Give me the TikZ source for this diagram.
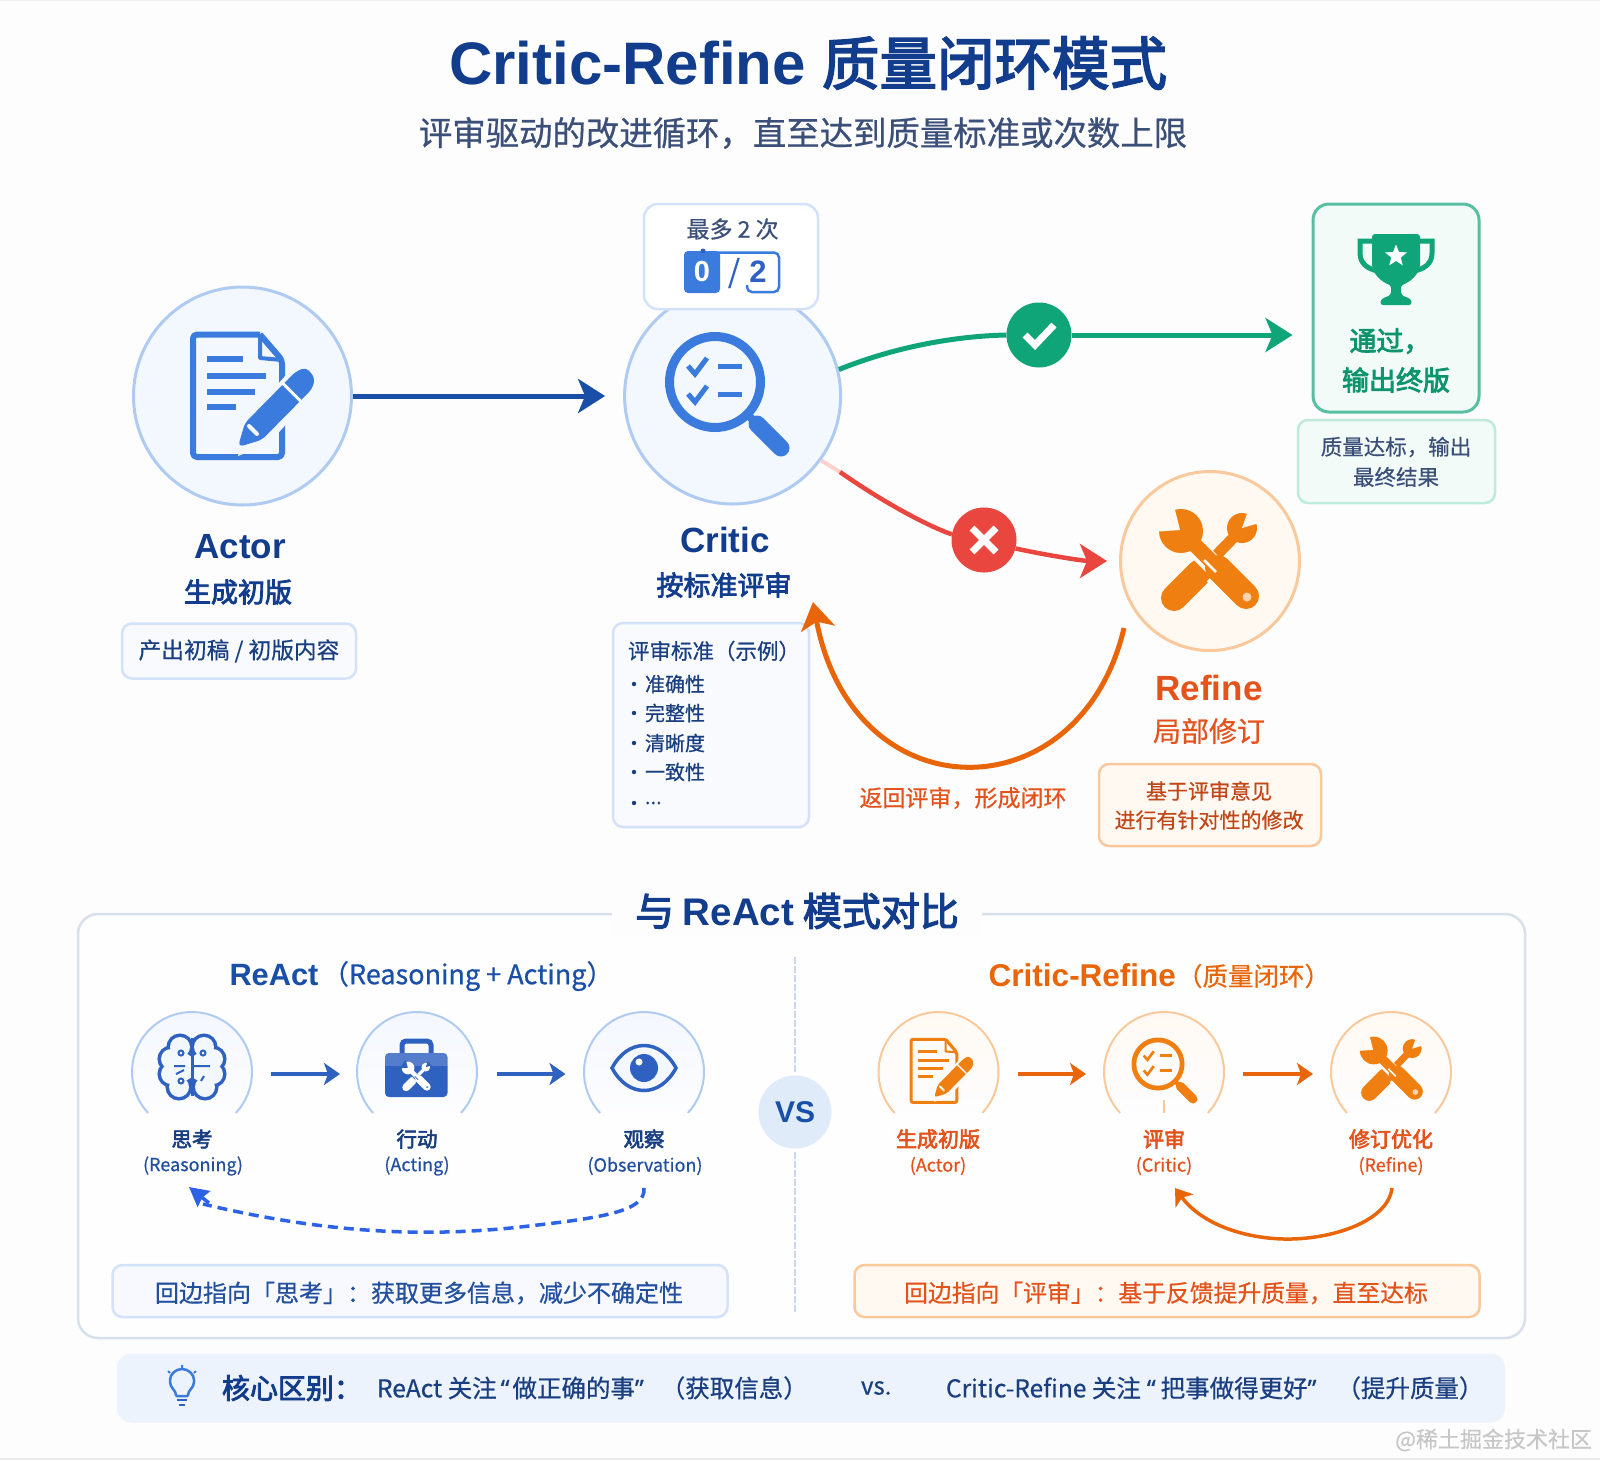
\documentclass[tikz,border=0pt]{standalone}
\usepackage{fontspec}
\setmainfont[FakeBold=0.6]{Noto Sans CJK SC}
\newfontfamily\semi[FakeBold=3]{Noto Sans CJK SC}
\newfontfamily\lb{Liberation Sans}
\newfontfamily\qf[FakeBold=0.6]{Noto Sans}
\usetikzlibrary{arrows.meta,shapes.geometric,calc}
\definecolor{bgc}{HTML}{FDFDFE}
\definecolor{navy}{HTML}{123C8C}
\definecolor{navyb}{HTML}{1A3F80}
\definecolor{arblue}{HTML}{1A4FA8}
\definecolor{icblue}{HTML}{3A7BDD}
\definecolor{ltblue}{HTML}{F3F7FE}
\definecolor{edblue}{HTML}{AFCBF2}
\definecolor{boxblue}{HTML}{D3E2F8}
\definecolor{midblue}{HTML}{2F62C0}
\definecolor{txblue}{HTML}{23509E}
\definecolor{slate}{HTML}{3B4F78}
\definecolor{grn}{HTML}{10A578}
\definecolor{ltgrn}{HTML}{F2FBF8}
\definecolor{edgrn}{HTML}{BDEBDA}
\definecolor{red1}{HTML}{E8463E}
\definecolor{org}{HTML}{E8650A}
\definecolor{org2}{HTML}{F07F12}
\definecolor{ltorg}{HTML}{FFF9F2}
\definecolor{edorg}{HTML}{F9C99C}
\definecolor{txorg}{HTML}{E4531C}
\definecolor{frame}{HTML}{D8E0EC}
\definecolor{divc}{HTML}{C9D8EE}
\definecolor{barb}{HTML}{EDF3FC}
\newcommand{\fs}[1]{\fontsize{#1}{#1}\selectfont}
\tikzset{
 txt/.style={inner sep=0pt,outer sep=0pt,align=center},
 bignode/.style={circle,inner sep=0pt,minimum size=#1,line width=3pt},
 softbox/.style={rounded corners=10pt,line width=2.5pt},
 flowtip/.style={-{Stealth[length=27pt,width=34pt,inset=7pt]}},
 smalltip/.style={-{Stealth[length=16pt,width=22pt,inset=4pt]}},
}
% doc icon: x y scale colour bg
\newcommand{\docicon}[5]{\begin{scope}[shift={(#1,#2)},scale=#3]
 \draw[#4,line width=#3*6pt,line join=round,rounded corners=#3*4pt] (70,2.5)--(3,2.5)--(3,125)--(92,125)--(92,28)--(70,2.5);
 \draw[#4,line width=#3*4pt,line join=round] (70,2.5)--(70,26)--(92,28);
 \foreach \yy/\xx in {27/53,44/76,60/65,75/46}{\draw[#4,line width=#3*6pt] (17,\yy)--(\xx,\yy);}
 \fill[#5] (48,124)--(56,88)--(104,34)--(128,58)--(78,112)--cycle;
 \fill[#4,rounded corners=#3*5pt] (48,115)--(54.9,91)--(105.3,39.9)--(116,35)--(125,46)--(122.3,56.7)--(71.9,107.8)--cycle;
 \draw[#5,line width=#3*3pt] (92,50.5)--(110.5,69);
 \draw[#5,line width=#3*4pt,line cap=round] (59,94)--(67,102);
\end{scope}}
% magnifier
\newcommand{\magicon}[5]{\begin{scope}[shift={(#1,#2)},scale=#3]
 \draw[#4,line width=#3*9pt] (0,0) circle[radius=45.5];
 \draw[#4,line width=#3*8pt] (33,33)--(42,42);
 \draw[#4,line width=#3*17pt,line cap=round] (42,42)--(66,66);
 \foreach \yy in {-16,12}{
  \draw[#4,line width=#3*5pt] (-27,\yy)--(-20,\yy+8)--(-8,\yy-8);
  \draw[#4,line width=#3*5pt] (3,\yy)--(27,\yy);}
\end{scope}}
% crossed tools
\newcommand{\toolsicon}[5]{\begin{scope}[shift={(#1,#2)},scale=#3]
 \draw[#4,line width=#3*11pt] (-8,8)--(27,-28);
 \fill[#4] (32,-34) circle[radius=15];
 \fill[#5] (32,-34)--(53,-40)--(39,-54)--cycle;
 \draw[#4,line width=#3*26pt,line cap=round] (-36,36)--(-10,10);
 \draw[#5,line width=#3*20pt] (-16,-16)--(10,10);
 \draw[#5,line width=#3*32pt] (8,8)--(14,14);
 \fill[#4] (-29,-31) circle[radius=22];
 \fill[#5] (-30,-32)--(-58,-30)--(-37,-60)--cycle;
 \draw[#4,line width=#3*15pt] (-29,-31)--(8,6);
 \draw[#4,line width=#3*26pt,line cap=round] (8,6)--(36,34);
 \draw[#5,line width=#3*2.5pt] (-6,-2)--(6,10);
 \fill[#5,opacity=.7] (37,35) circle[radius=4.5];
\end{scope}}
% half-cut round holder with a named node
\newcommand{\holder}[4]{
 \node[bignode=120pt] (#1) at (#2,1072) {};
 \fill[top color=#4,bottom color=bgc] (#2,1072)++(137:60) arc[start angle=137,end angle=403,radius=60] -- cycle;
 \draw[#3,line width=2pt] (#2,1072)++(137:60) arc[start angle=137,end angle=403,radius=60];
}
\begin{document}
\begin{tikzpicture}[x=1pt,y=-1pt]
\useasboundingbox (0,0) rectangle (1600,1460);
\fill[bgc] (0,0) rectangle (1600,1460);
\draw[black!8,line width=1.5pt] (0,1459)--(1600,1459);
\draw[black!5,line width=1pt] (0,0.5)--(1600,0.5);

% title
\node[txt,anchor=west,text=navy,font=\fs{60}\lb\bfseries] (title) at (449,63) {Critic-Refine};
\node[txt,anchor=west,text=navy,font=\fs{57.5}\semi] (titleb) at (822,63) {质量闭环模式};
\node[txt,text=slate,font=\fs{33.4}] (subtitle) at (803,133) {评审驱动的改进循环，直至达到质量标准或次数上限};

% main circles
\node[bignode=218pt,draw=edblue,fill=ltblue] (actor) at (242.5,396) {};
\node[bignode=216pt,draw=edblue,fill=ltblue] (critic) at (732.6,396) {};
\node[bignode=179pt,draw=edorg,fill=ltorg] (refine) at (1210,561) {};
\docicon{190}{332}{1}{icblue}{ltblue}
\magicon{715}{382}{1}{icblue}{ltblue}
\toolsicon{1210}{562}{1}{org2}{ltorg}

% counter badge
\node[draw=boxblue,fill=white,rounded corners=14pt,line width=2.5pt,minimum width=174pt,minimum height=105pt] (badge) at (731,256.5) {};
\node[txt,text=slate,font=\fs{23}] (maxn) at (732.6,229) {最多 2 次};
\draw[icblue,line width=2.5pt,rounded corners=5pt] (715,252.5)--(779,252.5)--(779,292)--(747,292)--(747,285);
\fill[icblue,rounded corners=4pt] (684,251) rectangle (720,293);
\fill[midblue] (703,251) circle[radius=2.5];
\node[txt,text=white,font=\fs{29}\lb\bfseries] (zero) at (702,272) {0};
\node[txt,text=midblue,font=\fs{31}] (slash) at (734,273) {/};
\node[txt,text=midblue,font=\fs{31}\lb\bfseries] (two) at (758,272) {2};

% actor labels
\node[txt,text=navy,font=\fs{35}\lb\bfseries] (actorl) at (240,547) {Actor};
\node[txt,text=navy,font=\fs{27}\semi] (actors) at (238,592) {生成初版};
\node[softbox,draw=boxblue,fill=ltblue!60!white,minimum width=234pt,minimum height=55pt] (actorb) at (239,651) {};
\node[txt,text=navyb,font=\fs{22.7}] (actort) at (239,651) {产出初稿 / 初版内容};

% critic labels
\node[txt,text=navy,font=\fs{35}\lb\bfseries] (criticl) at (725,540) {Critic};
\node[txt,text=navy,font=\fs{27}\semi] (critics) at (724,585) {按标准评审};
\node[softbox,draw=boxblue,fill=ltblue!60!white,minimum width=196pt,minimum height=204pt] (criticb) at (711,725) {};
\node[txt,anchor=west,text=navyb,font=\fs{21.5}] (crith) at (628,651) {评审标准（示例）};
\foreach \nm/\yy/\tx in {ca/684/准确性,cb/713/完整性,cc/743/清晰度,cd/772/一致性}{
 \fill[navyb] (634,\yy) circle[radius=2.2];
 \node[txt,anchor=west,text=navyb,font=\fs{20}] (\nm) at (645,\yy) {\tx};
}
\fill[navyb] (634,803) circle[radius=2.2];
\node[txt,anchor=west,text=navyb,font=\fs{20}] (ce) at (645,803) {...};

% trophy
\node[draw=grn!70!white,fill=ltgrn,rounded corners=16pt,line width=3pt,minimum width=166pt,minimum height=208pt] (win) at (1396,308) {};
\begin{scope}[shift={(1396,267)}]
 \draw[grn,line width=5pt] (-21,-26)--(-36,-26)--(-36,-14) .. controls (-36,-3) and (-28,2) .. (-18,4);
 \draw[grn,line width=5pt] (21,-26)--(36,-26)--(36,-14) .. controls (36,-3) and (28,2) .. (18,4);
 \fill[grn,rounded corners=3pt] (-24,-33)--(24,-33)--(24,-6) .. controls (24,8) and (12,16) .. (5,18)--(5,28)--(15,32)--(16,38)--(-16,38)--(-15,32)--(-5,28)--(-5,18) .. controls (-12,16) and (-24,8) .. (-24,-6)--cycle;
 \node[star,star points=5,star point ratio=2.3,fill=white,inner sep=0pt,minimum size=23pt] (winstar) at (0,-11) {};
\end{scope}
\node[txt,text=grn!90!black,font=\fs{27}\semi] (wina) at (1390,341) {通过，};
\node[txt,text=grn!90!black,font=\fs{27}\semi] (winb) at (1396,380) {输出终版};
\node[softbox,draw=edgrn,fill=ltgrn,minimum width=197pt,minimum height=83pt] (winbox) at (1396.5,461.5) {};
\node[txt,text=slate,font=\fs{21.5}] (wint1) at (1396,447) {质量达标，输出};
\node[txt,text=slate,font=\fs{21.5}] (wint2) at (1396,477) {最终结果};

% refine labels
\node[txt,text=txorg,font=\fs{35}\lb\bfseries] (refl) at (1209,688) {Refine};
\node[txt,text=txorg,font=\fs{28}] (refs) at (1209,731) {局部修订};
\node[softbox,draw=edorg,fill=ltorg,minimum width=222pt,minimum height=82pt] (refb) at (1210,805) {};
\node[txt,text=txorg!85!black,font=\fs{21}] (reft1) at (1209,791) {基于评审意见};
\node[txt,text=txorg!85!black,font=\fs{21}] (reft2) at (1209,820) {进行有针对性的修改};

% status marks
\node[circle,fill=grn,minimum size=65pt,inner sep=0pt] (okc) at (1039,335) {};
\draw[white,line width=7pt] (1025,335)--(1035,345)--(1054,325);
\node[circle,fill=red1,minimum size=65pt,inner sep=0pt] (nok) at (984,540) {};
\draw[white,line width=7pt] (972,528)--(996,552) (996,528)--(972,552);

% main connectors
\draw[arblue,line width=5pt,flowtip,shorten >=18pt] (actor.east)--(critic.west);
\draw[grn,line width=5pt] (critic.14) .. controls (900,345) and (960,336) .. (okc.west);
\draw[grn,line width=5pt,flowtip,shorten >=19pt] (okc.east)--(okc.east -| win.west);
\draw[red1!25!white,line width=4pt] (critic.-36)--(840,472);
\draw[red1,line width=4.5pt] (840,472) .. controls (880,500) and (925,525) .. (nok.170);
\draw[red1,line width=4.5pt,flowtip,shorten >=12pt] (nok.-15) .. controls (1050,556) and (1085,561) .. (refine.west);
\coordinate (backtip) at (813,602);
\draw[org,line width=5pt,flowtip] ($(refine.center)+(-86,67)$) .. controls (1080,815) and (853,815) .. (backtip);
\node[txt,text=txorg,font=\fs{23}] (backl) at (963,798) {返回评审，形成闭环};

% comparison frame
\draw[frame,line width=2.5pt,fill=white!60!bgc,rounded corners=20pt] (78,914) rectangle (1525,1338);
\node[fill=bgc,minimum width=370pt,minimum height=46pt,inner sep=0pt] (headbg) at (797,912) {};
\node[txt,text=navy,font=\fs{39}\semi] (head) at (797,911) {与 {\lb\bfseries\fs{38.5}ReAct} 模式对比};

% divider and VS
\draw[divc,line width=1.5pt,dash pattern=on 7pt off 2pt] (795,957)--(795,1072);
\draw[divc,line width=1.5pt,dash pattern=on 7pt off 2pt] (795,1152)--(795,1313);
\node[circle,fill=boxblue!70!white,minimum size=73pt,inner sep=0pt,text=arblue,font=\fs{30}\lb\bfseries] (vs) at (795,1112) {VS};

% ReAct side
\node[txt,text=arblue,font=\fs{30.8}\lb\bfseries] (rta) at (274,975) {ReAct};
\node[txt,anchor=west,text=arblue,font=\fs{27}] (rtb) at (322,976) {（Reasoning + Acting）};
\holder{r1}{192}{edblue}{ltblue}
\holder{r2}{417}{edblue}{ltblue}
\holder{r3}{644}{edblue}{ltblue}
% brain
\begin{scope}[shift={(192,1067)}]
 \foreach \cx/\cy/\rr in {-12/-20/10,-21/-8/10,-21/7/10,-13/20/10,-10/0/14,12/-20/10,21/-8/10,21/7/10,13/20/10,10/0/14}{
  \draw[midblue,line width=7pt] (\cx,\cy) circle[radius=\rr];}
 \foreach \cx/\cy/\rr in {-12/-20/10,-21/-8/10,-21/7/10,-13/20/10,-10/0/14,12/-20/10,21/-8/10,21/7/10,13/20/10,10/0/14}{
  \fill[ltblue] (\cx,\cy) circle[radius=\rr];}
 \draw[midblue,line width=3pt] (0,-29)--(0,29);
 \draw[midblue,line width=2pt] (0,-1)--(18,-1) (-18,-1)--(-7,-1) (-16,7)--(-8,3) (12,9)--(9,14);
 \foreach \cx/\cy in {-11/-14,11/-14,-11/14}{\draw[midblue,line width=2pt] (\cx,\cy) circle[radius=2.5];}
\end{scope}
% toolbox
\draw[midblue,line width=5pt,rounded corners=4pt] (402,1056)--(402,1041)--(431,1041)--(431,1056);
\fill[midblue,rounded corners=4pt] (385,1053) rectangle (447.5,1097);
\fill[white,opacity=.18] (385,1053) rectangle (447.5,1066);
\toolsicon{416.5}{1077}{0.29}{white}{midblue}
% eye
\draw[midblue,line width=3.5pt,fill=ltblue] (612,1068) .. controls (628,1038) and (660,1038) .. (676,1068) .. controls (660,1098) and (628,1098) .. cycle;
\fill[midblue] (644,1068) circle[radius=14];
\fill[white] (639,1062) circle[radius=3.5];
% ReAct arrows
\draw[midblue,line width=3.5pt,smalltip] (270.5,1074)--(340,1074);
\draw[midblue,line width=3.5pt,smalltip] (497,1074)--(565.5,1074);
% ReAct labels
\node[txt,text=navyb,font=\fs{20.5}\semi] (rl1) at (192,1139) {思考};
\node[txt,text=txblue,font=\fs{18}] (rs1) at (193,1166) {(Reasoning)};
\node[txt,text=navyb,font=\fs{20.5}\semi] (rl2) at (417,1139) {行动};
\node[txt,text=txblue,font=\fs{18}] (rs2) at (417,1166) {(Acting)};
\node[txt,text=navyb,font=\fs{20.5}\semi] (rl3) at (644,1139) {观察};
\node[txt,text=txblue,font=\fs{18}] (rs3) at (645,1166) {(Observation)};
\coordinate (dashs) at (644,1188);
\coordinate (dashe) at (189,1187);
\draw[icblue!80!blue,line width=3.5pt,dash pattern=on 10pt off 6pt] (dashs) .. controls (646,1212) and (600,1218) .. (520,1227) .. controls (420,1238) and (320,1232) .. (203,1204);
\draw[icblue!80!blue,line width=3.5pt,-{Stealth[length=19pt,width=20pt,inset=2pt]}] ($(dashe)+(20,16)$)--(dashe);
\node[softbox,draw=boxblue,fill=ltblue!70!white,minimum width=615pt,minimum height=52pt] (rnote) at (420,1291) {};
\node[txt,text=txblue,font=\fs{24}] (rnotet) at (419,1293) {回边指向「思考」：获取更多信息，减少不确定性};

% Critic-Refine side
\node[txt,anchor=east,text=org,font=\fs{31.5}\lb\bfseries] (cra) at (1176,975) {Critic-Refine};
\node[txt,anchor=west,text=org,font=\fs{25.5}] (crb) at (1177,976) {（质量闭环）};
\holder{o1}{938.5}{edorg}{ltorg}
\holder{o2}{1164}{edorg}{ltorg}
\holder{o3}{1391}{edorg}{ltorg}
\docicon{909.5}{1038}{0.515}{org2}{ltorg}
\magicon{1158}{1064}{0.53}{org2}{ltorg}
\toolsicon{1392}{1070}{0.63}{org2}{ltorg}
\draw[edorg,line width=1.5pt] (1164,1100)--(1164,1113);
\draw[org,line width=3.5pt,smalltip] (1017.5,1074)--(1086,1074);
\draw[org,line width=3.5pt,smalltip] (1243,1074)--(1313,1074);
\node[txt,text=txorg,font=\fs{21}\semi] (ol1) at (938,1139) {生成初版};
\node[txt,text=txorg,font=\fs{18}] (os1) at (938,1166) {(Actor)};
\node[txt,text=txorg,font=\fs{21}\semi] (ol2) at (1164,1139) {评审};
\node[txt,text=txorg,font=\fs{18}] (os2) at (1164,1166) {(Critic)};
\node[txt,text=txorg,font=\fs{21}\semi] (ol3) at (1391,1139) {修订优化};
\node[txt,text=txorg,font=\fs{18}] (os3) at (1391,1166) {(Refine)};
\coordinate (cbs) at (1392,1188);
\coordinate (cbe) at (1175,1188);
\draw[org,line width=3.5pt,smalltip] (cbs) .. controls (1388,1222) and (1330,1240) .. (1284,1239) .. controls (1240,1238) and (1200,1222) .. (cbe);
\node[softbox,draw=edorg,fill=ltorg,minimum width=625pt,minimum height=52pt] (onote) at (1167,1291) {};
\node[txt,text=txorg,font=\fs{23.8}] (onotet) at (1166,1293) {回边指向「评审」：基于反馈提升质量，直至达标};

% bottom bar
\node[fill=barb,rounded corners=14pt,minimum width=1388pt,minimum height=69pt,inner sep=0pt] (bar) at (811,1388) {};
\draw[icblue,line width=2.5pt,rounded corners=1pt] (176,1396) .. controls (176,1390) and (170,1388) .. (170,1381) arc[start angle=180,end angle=360,radius=12] .. controls (194,1388) and (188,1390) .. (188,1396)--cycle;
\draw[midblue,line width=2.5pt] (177,1400)--(187,1400) (179,1405)--(185,1405);
\draw[icblue,line width=2pt] (182,1365)--(182,1368) (168,1371)--(170,1373) (196,1371)--(194,1373);
\node[txt,anchor=west,text=navy,font=\fs{28}\semi] (core) at (222,1388) {核心区别：};
\node[txt,anchor=west,text=navyb,font=\fs{24.5}] (corea) at (377,1388) {ReAct 关注\hspace{4pt}{\qf “}\hspace{3pt}做正确的事{\qf ”}\hspace{17pt}（获取信息）};
\node[txt,anchor=west,text=navyb,font=\fs{24}] (corev) at (861,1388) {vs.};
\node[txt,anchor=west,text=navyb,font=\fs{24.5}] (coreb) at (946,1388) {Critic-Refine 关注\hspace{6pt}{\qf “}\hspace{5pt}把事做得更好{\qf ”}\hspace{20pt}（提升质量）};
\node[txt,anchor=east,text=black!22,font=\fs{22}] (wm) at (1592,1440) {@稀土掘金技术社区};
\end{tikzpicture}
\end{document}
